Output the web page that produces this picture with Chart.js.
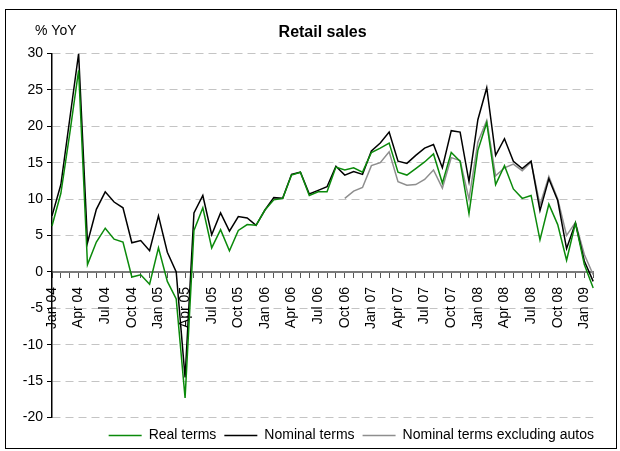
<!DOCTYPE html>
<html>
<head>
<meta charset="utf-8">
<script src="https://cdn.jsdelivr.net/npm/chart.js@4.4.1/dist/chart.umd.min.js"></script>
<style>
  html, body { margin: 0; padding: 0; background: #fff; }
  #wrap { position: relative; width: 620px; height: 451px; }
  #frame { position: absolute; left: 5px; top: 9px; width: 610px; height: 438px; border: 1px solid #000; pointer-events: none; }
  canvas { position: absolute; left: 0; top: 0; }
</style>
</head>
<body>
<div id="wrap">
  <canvas id="retailChart" width="620" height="451"></canvas>
  <div id="frame"></div>
</div>
<script>
// months Jan 04 - Feb 09
const months = [
  'Jan 04', 'Feb 04', 'Mar 04', 'Apr 04', 'May 04', 'Jun 04', 'Jul 04', 'Aug 04', 'Sep 04', 'Oct 04', 'Nov 04', 'Dec 04',
  'Jan 05', 'Feb 05', 'Mar 05', 'Apr 05', 'May 05', 'Jun 05', 'Jul 05', 'Aug 05', 'Sep 05', 'Oct 05', 'Nov 05', 'Dec 05',
  'Jan 06', 'Feb 06', 'Mar 06', 'Apr 06', 'May 06', 'Jun 06', 'Jul 06', 'Aug 06', 'Sep 06', 'Oct 06', 'Nov 06', 'Dec 06',
  'Jan 07', 'Feb 07', 'Mar 07', 'Apr 07', 'May 07', 'Jun 07', 'Jul 07', 'Aug 07', 'Sep 07', 'Oct 07', 'Nov 07', 'Dec 07',
  'Jan 08', 'Feb 08', 'Mar 08', 'Apr 08', 'May 08', 'Jun 08', 'Jul 08', 'Aug 08', 'Sep 08', 'Oct 08', 'Nov 08', 'Dec 08',
  'Jan 09', 'Feb 09'
];

const realTerms = [
  6.3, 10.8, 19.0, 27.7, 1.0, 4.1, 6.0, 4.5, 4.1, -0.7, -0.4, -1.7,
  3.3, -1.3, -3.7, -17.3, 5.7, 8.8, 3.3, 5.8, 2.9, 5.7, 6.5, 6.4,
  8.5, 9.9, 10.1, 13.3, 13.7, 10.5, 11.0, 11.0, 14.4, 14.0, 14.3, 13.7,
  16.4, 17.0, 17.7, 13.7, 13.3, 14.2, 15.1, 16.2, 12.2, 16.4, 15.2, 8.0,
  16.7, 20.5, 12.0, 14.6, 11.4, 10.1, 10.5, 4.4, 9.3, 6.5, 1.6, 6.7,
  1.0, -2.2
];

const nominalTerms = [
  7.7, 12.0, 21.0, 30.0, 4.0, 8.6, 11.0, 9.6, 8.8, 4.0, 4.3, 2.9,
  7.7, 2.7, 0.0, -14.5, 8.1, 10.5, 5.1, 8.1, 5.6, 7.6, 7.4, 6.4,
  8.5, 10.2, 10.1, 13.4, 13.7, 10.7, 11.2, 11.7, 14.5, 13.3, 13.8, 13.4,
  16.6, 17.7, 19.2, 15.2, 14.9, 16.0, 17.0, 17.5, 14.3, 19.4, 19.2, 12.4,
  20.9, 25.3, 16.0, 18.3, 15.2, 14.2, 15.2, 8.4, 12.8, 9.8, 3.2, 6.7,
  1.5, -1.3
];

// series starts Oct 06
const nominalExAutos = [
  null, null, null, null, null, null, null, null, null, null, null, null,
  null, null, null, null, null, null, null, null, null, null, null, null,
  null, null, null, null, null, null, null, null, null, 10.1, 11.1, 11.6,
  14.6, 15.0, 16.5, 12.4, 11.9, 12.0, 12.7, 14.0, 11.5, 15.7, 15.3, 10.0,
  17.8, 20.8, 13.2, 14.3, 14.8, 13.9, 15.1, 9.2, 13.1, 10.0, 5.0, 6.8,
  2.4, -0.4
];

const yTicks = [-20, -15, -10, -5, 0, 5, 10, 15, 20, 25, 30];

const FONT = '"Liberation Sans", Arial, sans-serif';

// "% YoY" label top left
const yoyLabel = {
    id: 'yoyLabel',
    afterDraw(chart) {
        const ctx = chart.ctx;
        ctx.save();
        ctx.font = '14px ' + FONT;
        ctx.fillStyle = '#000';
        ctx.textBaseline = 'middle';
        ctx.fillText('% YoY', 35, 31);
        ctx.restore();
    }
};

// nudge legend a bit
const legendShift = {
    id: 'legendShift',
    afterLayout(chart) {
        const lg = chart.legend;
        lg.top += 3; lg.bottom += 3;
        lg.left -= 3; lg.right -= 3;
    }
};

document.addEventListener('DOMContentLoaded', function() {
    const ctx = document.getElementById('retailChart').getContext('2d');
    new Chart(ctx, {
        type: 'line',
        data: {
            labels: months,
            datasets: [{
                label: 'Real terms',
                data: realTerms,
                borderColor: '#0b8a0b',
                backgroundColor: '#0b8a0b',
                borderWidth: 1.5
            }, {
                label: 'Nominal terms',
                data: nominalTerms,
                borderColor: '#000000',
                backgroundColor: '#000000',
                borderWidth: 1.5
            }, {
                label: 'Nominal terms excluding autos',
                data: nominalExAutos,
                borderColor: '#8e8e8e',
                backgroundColor: '#8e8e8e',
                borderWidth: 1.5
            }]
        },
        options: {
            responsive: false,
            animation: false,
            devicePixelRatio: 1,
            layout: { padding: { left: 0, right: 15, top: 0, bottom: 1.5 } },
            elements: {
                point: { radius: 0 },
                line: { tension: 0 }
            },
            plugins: {
                title: {
                    display: true,
                    text: 'Retail sales',
                    fullSize: false,
                    color: '#000',
                    font: { family: FONT, size: 16, weight: 'bold', lineHeight: 1.2 },
                    padding: { top: 22.5, bottom: 11.8 }
                },
                legend: {
                    position: 'bottom',
                    align: 'end',
                    labels: {
                        color: '#000',
                        font: { family: FONT, size: 14 },
                        boxWidth: 33,
                        boxHeight: 1.5,
                        padding: 8,
                        generateLabels: function(chart) {
                            const items = Chart.defaults.plugins.legend.labels.generateLabels(chart);
                            items.forEach(function(it) {
                                it.fillStyle = it.strokeStyle;
                                it.lineWidth = 0;
                            });
                            return items;
                        }
                    }
                },
                tooltip: { enabled: false }
            },
            scales: {
                x: {
                    type: 'category',
                    position: { y: 0 },
                    offset: false,
                    border: { display: true, color: '#7a7a7a', width: 2 },
                    grid: {
                        drawOnChartArea: false,
                        drawTicks: true,
                        tickLength: 5,
                        tickColor: '#555',
                        tickWidth: 1
                    },
                    ticks: {
                        autoSkip: false,
                        maxRotation: 90,
                        minRotation: 90,
                        padding: 10,
                        color: '#000',
                        font: { family: FONT, size: 14 },
                        callback: function(val, idx) {
                            return idx % 3 === 0 ? months[idx] : '';
                        }
                    }
                },
                y: {
                    min: -20,
                    max: 30,
                    afterFit: function(scale) { scale.width = 52; },
                    afterBuildTicks: function(scale) {
                        scale.ticks = yTicks.map(function(v) { return { value: v }; });
                    },
                    border: { display: true, color: '#000', width: 1.5, dash: [8, 5] },
                    grid: {
                        color: '#c4c4c4',
                        lineWidth: 1,
                        drawTicks: true,
                        tickLength: 5,
                        tickColor: '#000',
                        tickWidth: 1,
                        tickBorderDash: []
                    },
                    ticks: {
                        padding: 4,
                        color: '#000',
                        font: { family: FONT, size: 14 }
                    }
                }
            }
        },
        plugins: [yoyLabel, legendShift]
    });
});
</script>
</body>
</html>
